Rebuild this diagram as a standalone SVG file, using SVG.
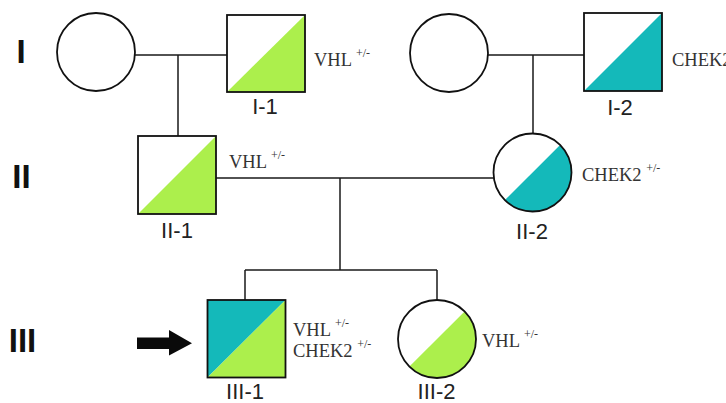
<svg xmlns="http://www.w3.org/2000/svg" width="726" height="403" viewBox="0 0 726 403">
  <style>
    .shape { stroke: #111; stroke-width: 1.8; }
    .plain { fill: #fff; }
    .green { fill: #acef4c; }
    .teal { fill: #14b9ba; }
    .edge { fill: none; stroke: #111; stroke-width: 1.8; }
    .link { fill: none; stroke: #1a1a1a; stroke-width: 1.5; }
    .gen { font-family: "Liberation Sans Narrow", "Liberation Sans", Arial, sans-serif; font-weight: bold; font-size: 33px; fill: #111; text-anchor: middle; }
    .id { font-family: "Liberation Sans", Arial, sans-serif; font-size: 22px; fill: #222; text-anchor: middle; }
    .gene { font-family: "Liberation Serif", "Times New Roman", serif; font-size: 18.5px; fill: #333; }
    .sup { font-size: 12px; }
  </style>

  <!-- generation labels -->
  <g id="generations">
    <text class="gen" x="21" y="63">I</text>
    <text class="gen" x="21.5" y="188">II</text>
    <text class="gen" x="22.5" y="352">III</text>
  </g>

  <!-- connectors -->
  <g id="connectors">
    <path class="link" d="M135 55 H227 M178 55 V136"/>
    <path class="link" d="M488 55 H584 M533 55 V133"/>
    <path class="link" d="M216 178 H494 M340 178 V270"/>
    <path class="link" d="M245 270 H437 M245 270 V300 M437 270 V300"/>
  </g>

  <!-- generation I -->
  <g id="I-a">
    <circle class="shape plain" cx="96" cy="52" r="39"/>
  </g>
  <g id="I-1">
    <rect class="plain" x="227" y="15" width="78" height="77"/>
    <polygon class="green" points="227,92 305,15 305,92"/>
    <rect class="edge" x="227" y="15" width="78" height="77"/>
    <text class="id" x="265" y="114">I-1</text>
    <text class="gene" x="314" y="66">VHL <tspan class="sup" dy="-9">+/-</tspan></text>
  </g>
  <g id="I-b">
    <circle class="shape plain" cx="449" cy="53" r="39"/>
  </g>
  <g id="I-2">
    <rect class="plain" x="584" y="13" width="78" height="78"/>
    <polygon class="teal" points="584,91 662,13 662,91"/>
    <rect class="edge" x="584" y="13" width="78" height="78"/>
    <text class="id" x="620" y="115">I-2</text>
    <text class="gene" x="672" y="66">CHEK2 <tspan class="sup" dy="-9">+/-</tspan></text>
  </g>

  <!-- generation II -->
  <g id="II-1">
    <rect class="plain" x="138" y="136" width="78" height="78"/>
    <polygon class="green" points="138,214 216,136 216,214"/>
    <rect class="edge" x="138" y="136" width="78" height="78"/>
    <text class="id" x="177" y="238">II-1</text>
    <text class="gene" x="229" y="168">VHL <tspan class="sup" dy="-9">+/-</tspan></text>
  </g>
  <g id="II-2">
    <circle class="plain" cx="532.5" cy="172.5" r="39"/>
    <path class="teal" d="M504.9 200.1 A39 39 0 0 0 560.1 144.9 Z"/>
    <circle class="edge" cx="532.5" cy="172.5" r="39"/>
    <text class="id" x="532" y="239">II-2</text>
    <text class="gene" x="582" y="181">CHEK2 <tspan class="sup" dy="-9">+/-</tspan></text>
  </g>

  <!-- generation III -->
  <g id="proband-arrow">
    <polygon fill="#0a0a0a" points="137,337.5 169,337.5 169,330 192,343.3 169,355.5 169,349 137,349"/>
  </g>
  <g id="III-1">
    <polygon class="teal" points="207.5,300 285.5,300 207.5,377.5"/>
    <polygon class="green" points="285.5,300 285.5,377.5 207.5,377.5"/>
    <rect class="edge" x="207.5" y="300" width="78" height="77.5"/>
    <text class="id" x="245" y="398.5">III-1</text>
    <text class="gene" x="293" y="336">VHL <tspan class="sup" dy="-9">+/-</tspan></text>
    <text class="gene" x="293" y="357">CHEK2 <tspan class="sup" dy="-9">+/-</tspan></text>
  </g>
  <g id="III-2">
    <circle class="plain" cx="437" cy="339" r="39"/>
    <path class="green" d="M409.4 366.6 A39 39 0 0 0 464.6 311.4 Z"/>
    <circle class="edge" cx="437" cy="339" r="39"/>
    <text class="id" x="436.5" y="398.5">III-2</text>
    <text class="gene" x="482" y="347">VHL <tspan class="sup" dy="-9">+/-</tspan></text>
  </g>
</svg>
